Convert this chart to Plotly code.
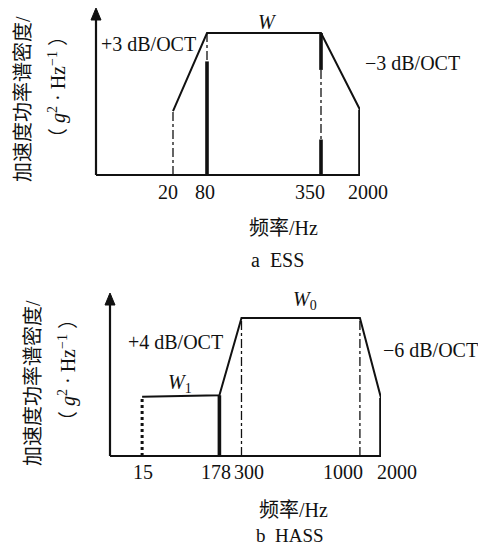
import plotly.graph_objects as go

W_IMG, H_IMG = 486, 555
PAGE_OFF = 8  # default body margin of the html page
FIG_W, FIG_H = W_IMG - PAGE_OFF, H_IMG - 2 * PAGE_OFF

# ---------------- data (schematic) ----------------
ess_labels = ["20", "80", "350", "2000"]
ess_pos = [77, 111, 225, 264]          # schematic x position
ess_level = [0.45, 1.0, 1.0, 0.46]     # relative PSD level

hass_labels = ["15", "178", "300", "1000", "2000"]
hass_pos = [32, 109, 131, 249, 270]
hass_level = [0.43, 0.44, 1.0, 1.0, 0.42]

FONT = "Liberation Serif, Times New Roman, Noto Sans CJK SC, serif"
BLACK = "#111111"

def px(x):
    return (x - PAGE_OFF) / FIG_W

def py(y):
    return 1 - (y - PAGE_OFF) / FIG_H

fig = go.Figure()

def seg(x, y0, y1, width, dash, xa, ya):
    fig.add_trace(go.Scatter(x=[x, x], y=[y0, y1], mode="lines",
                             line=dict(color=BLACK, width=width, dash=dash),
                             xaxis=xa, yaxis=ya, cliponaxis=False,
                             hoverinfo="skip", showlegend=False))

# ---- top panel (ESS) ----
fig.add_trace(go.Scatter(x=ess_pos, y=ess_level, mode="lines",
                         line=dict(color=BLACK, width=2),
                         xaxis="x", yaxis="y", cliponaxis=False,
                         hoverinfo="skip", showlegend=False))
THICK = 3.6
THIN = 1.3
seg(ess_pos[0], 0, ess_level[0], THIN, "dashdot", "x", "y")
seg(ess_pos[1], ess_level[1], 0.80, THIN, "dashdot", "x", "y")
seg(ess_pos[1], 0.80, 0, THICK, "solid", "x", "y")
seg(ess_pos[2], ess_level[2], 0.74, THICK, "solid", "x", "y")
seg(ess_pos[2], 0.74, 0.25, THIN, "dashdot", "x", "y")
seg(ess_pos[2], 0.25, 0, THICK, "solid", "x", "y")
seg(ess_pos[3], 0, ess_level[3], THICK, "solid", "x", "y")

# ---- bottom panel (HASS) ----
fig.add_trace(go.Scatter(x=hass_pos, y=hass_level, mode="lines",
                         line=dict(color=BLACK, width=2),
                         xaxis="x2", yaxis="y2", cliponaxis=False,
                         hoverinfo="skip", showlegend=False))
seg(hass_pos[0], 0, hass_level[0], 3.0, "dot", "x2", "y2")
seg(hass_pos[1], 0, hass_level[1], THICK, "solid", "x2", "y2")
seg(hass_pos[2], 0, hass_level[2], THIN, "dashdot", "x2", "y2")
seg(hass_pos[3], 0, hass_level[3], THIN, "dashdot", "x2", "y2")
seg(hass_pos[4], 0, hass_level[4], THICK, "solid", "x2", "y2")

# ---- axes geometry (pixels of the final picture) ----
top_x0, top_x1, top_base, top_level1, top_axis_top = 96, 360, 175, 33, 16
bot_x0, bot_x1, bot_base, bot_level1, bot_axis_top = 110, 381, 456, 318, 301

top_scale = (top_base - top_level1)
bot_scale = (bot_base - bot_level1)

axis_common = dict(showgrid=False, zeroline=False, showticklabels=False,
                   ticks="", showline=False, fixedrange=True)

fig.update_layout(
    width=FIG_W, height=FIG_H,
    margin=dict(l=0, r=0, t=0, b=0),
    paper_bgcolor="white", plot_bgcolor="rgba(0,0,0,0)",
    xaxis=dict(domain=[px(top_x0), px(top_x1)], range=[0, max(ess_pos)], **axis_common),
    yaxis=dict(domain=[py(top_base), py(top_axis_top)],
               range=[0, (top_base - top_axis_top) / top_scale], **axis_common),
    xaxis2=dict(domain=[px(bot_x0), px(bot_x1)], range=[0, max(hass_pos)], anchor="y2", **axis_common),
    yaxis2=dict(domain=[py(bot_base), py(bot_axis_top)],
                range=[0, (bot_base - bot_axis_top) / bot_scale], anchor="x2", **axis_common),
)

def axis_lines(x0, x1, base, top):
    fig.add_shape(type="line", xref="paper", yref="paper",
                  x0=px(x0), x1=px(x1), y0=py(base), y1=py(base),
                  line=dict(color=BLACK, width=2.2))
    fig.add_shape(type="line", xref="paper", yref="paper",
                  x0=px(x0), x1=px(x0), y0=py(base), y1=py(top),
                  line=dict(color=BLACK, width=2.2))
    fig.add_shape(type="path", xref="paper", yref="paper",
                  path=f"M {px(x0-5)} {py(top+10)} L {px(x0)} {py(top-2)} L {px(x0+5)} {py(top+10)} Z",
                  fillcolor=BLACK, line=dict(color=BLACK, width=1))

axis_lines(top_x0, top_x1, top_base, 10)
axis_lines(bot_x0, bot_x1, bot_base, 295)

def txt(text, x, y, size=20, angle=0):
    fig.add_annotation(text=text, x=px(x), y=py(y), xref="paper", yref="paper",
                       xanchor="center", yanchor="middle", showarrow=False,
                       textangle=angle, font=dict(family=FONT, size=size, color=BLACK))

# top texts
txt("<i>W</i>", 267, 22)
txt("+3 dB/OCT", 148, 44)
txt("−3 dB/OCT", 412, 63)
for lab, xx in zip(ess_labels, [168, 205, 310, 368]):
    txt(lab, xx, 192)
txt("频率/Hz", 283, 228)
txt("a  ESS", 277, 260)
txt("加速度功率谱密度/", 23, 99, angle=-90)
txt("（ <i>g</i><sup>2</sup> · Hz<sup>−1</sup> ）", 57, 87, angle=-90)

# bottom texts
txt("<i>W</i><sub>0</sub>", 305, 300)
txt("+4 dB/OCT", 175, 342)
txt("<i>W</i><sub>1</sub>", 180, 383)
txt("−6 dB/OCT", 430, 350)
for lab, xx in zip(hass_labels, [143, 216, 249, 343, 397]):
    txt(lab, xx, 472)
txt("频率/Hz", 293, 510)
txt("b  HASS", 290, 535, size=19)
txt("加速度功率谱密度/", 33, 383, angle=-90)
txt("（ <i>g</i><sup>2</sup> · Hz<sup>−1</sup> ）", 67, 370, angle=-90)

fig.write_html("out.html")
